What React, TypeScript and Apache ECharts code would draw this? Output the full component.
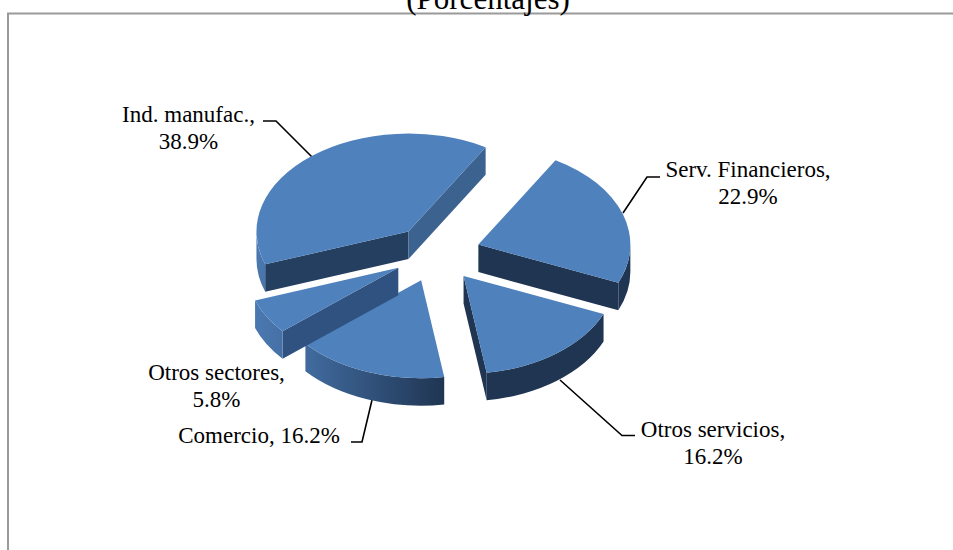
import React, { useEffect, useRef } from "react";
import * as echarts from "echarts";

const sectors = ["Serv. Financieros", "Otros servicios", "Comercio", "Otros sectores", "Ind. manufac."];
const shares = [22.9, 16.2, 16.2, 5.8, 38.9];
const titleText = "(Porcentajes)";

const CX = 436.5, CY = 253.5, RX = 152, RY = 98, DEPTH = 27.5, EXPLODE = 0.29, START = -59.5;
const TOP = "#4f81bd";
const startWall = ["#1f3552", "#1f3552", "#1f3552", "#2f5280", "#253f60"];
const endWall = ["#1f3552", "#1f3552", "#1f3552", "#2f5280", "#3c6290"];
const FONT = "'Liberation Serif', 'Times New Roman', serif";
const FS = 23;

const total = shares.reduce((a, b) => a + b, 0);
const rad = (d: number) => (d * Math.PI) / 180;

function renderSlice(params: any, api: any) {
  const i = params.dataIndex;
  const before = shares.slice(0, i).reduce((a, b) => a + b, 0);
  const a = START + (before / total) * 360;
  const b = a + (api.value(0) / total) * 360;
  const m = (a + b) / 2;
  const ox = CX + EXPLODE * RX * Math.cos(rad(m));
  const oy = CY + EXPLODE * RY * Math.sin(rad(m));
  const pt = (t: number, dz = 0): [number, number] => [ox + RX * Math.cos(rad(t)), oy + RY * Math.sin(rad(t)) + dz];
  const arc = (p: [number, number], sweep: number, span: number) =>
    `A${RX} ${RY} 0 ${Math.abs(span) > 180 ? 1 : 0} ${sweep} ${p[0]} ${p[1]}`;
  const children: any[] = [];
  const mp = [RX * Math.cos(rad(m)), RY * Math.sin(rad(m))];
  const wall = (t: number, fill: string) => {
    const p = [RX * Math.cos(rad(t)), RY * Math.sin(rad(t))];
    const crossDown = p[0];
    const crossMid = p[0] * mp[1] - p[1] * mp[0];
    if (crossDown * crossMid >= 0) return;
    const e = pt(t), e2 = pt(t, DEPTH);
    children.push({
      type: "path",
      shape: { pathData: `M${ox} ${oy}L${e[0]} ${e[1]}L${e2[0]} ${e2[1]}L${ox} ${oy + DEPTH}Z` },
      style: { fill },
    });
  };
  wall(a, startWall[i]);
  wall(b, endWall[i]);
  const t0 = Math.max(a, 0), t1 = Math.min(b, 180);
  if (t1 > t0) {
    const p0 = pt(t0), p1 = pt(t1), q1 = pt(t1, DEPTH), q0 = pt(t0, DEPTH);
    children.push({
      type: "path",
      shape: { pathData: `M${p0[0]} ${p0[1]}${arc(p1, 1, t1 - t0)}L${q1[0]} ${q1[1]}${arc(q0, 0, t1 - t0)}Z` },
      style: {
        fill: new echarts.graphic.LinearGradient(256, 0, 445, 0, [
          { offset: 0, color: "#4a78b0" },
          { offset: 0.3, color: "#3f689b" },
          { offset: 1, color: "#1f3552" },
        ], true),
      },
    });
  }
  const s = pt(a), e = pt(b);
  children.push({
    type: "path",
    shape: { pathData: `M${ox} ${oy}L${s[0]} ${s[1]}${arc(e, 1, b - a)}Z` },
    style: { fill: TOP },
  });
  return { type: "group", children };
}

const label = (text: string, x: number, y: number) => ({
  type: "text",
  x,
  y,
  style: { text, fill: "#000", font: `${FS}px ${FONT}`, align: "center", verticalAlign: "middle", lineHeight: 27 },
});
const leader = (points: number[][]) => ({
  type: "polyline",
  shape: { points },
  style: { stroke: "#000", lineWidth: 1.6, fill: "none" },
});
const pairLabel = (i: number) => `${sectors[i]},\n${shares[i].toFixed(1)}%`;

export default function App() {
  const ref = useRef<HTMLDivElement>(null);
  useEffect(() => {
    document.body.style.margin = "0";
    const chart = echarts.init(ref.current!, null, { renderer: "svg" });
    chart.setOption({
      animation: false,
      backgroundColor: "#fff",
      graphic: [
        { type: "rect", shape: { x: 8, y: 13.5, width: 960, height: 600 }, style: { fill: "none", stroke: "#9a9a9a", lineWidth: 2 } },
        {
          type: "text", x: 488, y: -2,
          style: { text: titleText, fill: "#000", font: `31px ${FONT}`, align: "center", verticalAlign: "middle" },
        },
        label(pairLabel(4), 188.5, 128),
        label(pairLabel(0), 748, 183),
        label(pairLabel(1), 713, 443),
        label(pairLabel(3), 216.5, 386),
        label(`${sectors[2]}, ${shares[2].toFixed(1)}%`, 259, 435),
        leader([[263, 121], [276, 121], [312, 157]]),
        leader([[660, 177], [647, 177], [623, 213]]),
        leader([[560, 380], [622, 435.5], [635, 435.5]]),
        leader([[372, 400], [362, 442], [351, 442]]),
      ],
      series: [{
        type: "custom",
        coordinateSystem: "none",
        silent: true,
        renderItem: renderSlice,
        data: shares.map((v, i) => ({ name: sectors[i], value: [v] })),
      }],
    });
    return () => chart.dispose();
  }, []);
  return <div ref={ref} style={{ position: "absolute", left: 0, top: 0, width: 953, height: 550 }} />;
}
